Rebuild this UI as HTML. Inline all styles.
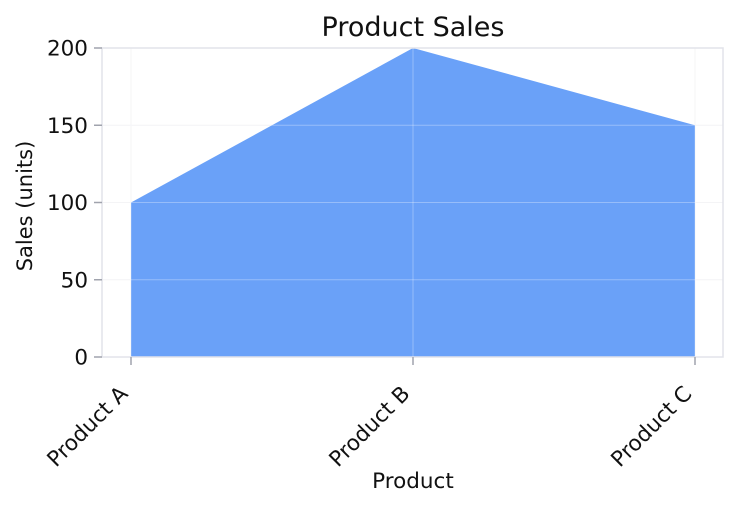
<!DOCTYPE html>
<html><head><meta charset="utf-8"><style>
body{margin:0;background:#fff;}
svg text{font-family:"DejaVu Sans","Liberation Sans",sans-serif;fill:#111;}
</style></head><body>
<svg width="739" height="507" id="chart">
<text x="413" y="36" font-size="27" text-anchor="middle">Product Sales</text>
<text x="413" y="488" font-size="21.5" text-anchor="middle">Product</text>
<text transform="translate(32,206) rotate(-90)" font-size="21" text-anchor="middle">Sales (units)</text>
<g id="grid"></g>
<g id="area"></g>
<g id="fggrid"></g>
<rect x="102" y="48" width="621" height="309" fill="none" stroke="#e2e3ea" stroke-width="1.5"/>
<g id="axes"></g>
</svg>
<script>
const categories = ["Product A","Product B","Product C"];
const sales = [100,200,150];
const yTicks = [0,50,100,150,200];
const ns="http://www.w3.org/2000/svg";
const x0=131,x1=695,yb=357,yt=48,ymax=200;
function xs(i){return x0+(x1-x0)*i/(categories.length-1);}
function ys(v){return yb-(yb-yt)*v/ymax;}
function mk(tag,attrs,parent){const e=document.createElementNS(ns,tag);for(const k in attrs)e.setAttribute(k,attrs[k]);document.getElementById(parent).appendChild(e);return e;}
yTicks.forEach(v=>{
  const g=mk('line',{x1:102,x2:723,y1:ys(v),y2:ys(v),stroke:'#f0f0f3','stroke-width':1},'grid');
  
  
  const g2=mk('line',{x1:102,x2:723,y1:ys(v),y2:ys(v),stroke:'rgba(255,255,255,0.3)','stroke-width':1},'fggrid');
  
  
  const t=mk('line',{x1:94,x2:102,y1:ys(v),y2:ys(v),stroke:'#a0a3ad','stroke-width':1.5},'axes');
  
  
  const l=mk('text',{x:88,y:ys(v)+7.5,'font-size':21.5,'text-anchor':'end'},'axes');
  l.textContent=v;
  
  
});
categories.forEach((c,i)=>{
  const g=mk('line',{x1:xs(i),x2:xs(i),y1:48,y2:357,stroke:'#f0f0f3','stroke-width':1},'grid');
  
  
  const g2=mk('line',{x1:xs(i),x2:xs(i),y1:48,y2:357,stroke:'rgba(255,255,255,0.3)','stroke-width':1},'fggrid');
  
  
  const t=mk('line',{x1:xs(i),x2:xs(i),y1:357,y2:365,stroke:'#a0a3ad','stroke-width':1.5},'axes');
  
  
  const l=mk('text',{transform:`translate(${xs(i)-2},${395}) rotate(-45)`,'font-size':21.5,'text-anchor':'end'},'axes');
  l.textContent=c;
  
  
});
let d=`M${xs(0)},${ys(0)}`;
sales.forEach((v,i)=>{d+=` L${xs(i)},${ys(v)}`;});
d+=` L${xs(sales.length-1)},${ys(0)} Z`;
const a=mk('path',{d:d,fill:'#6aa1f8'},'area');


</script>
</body></html>
